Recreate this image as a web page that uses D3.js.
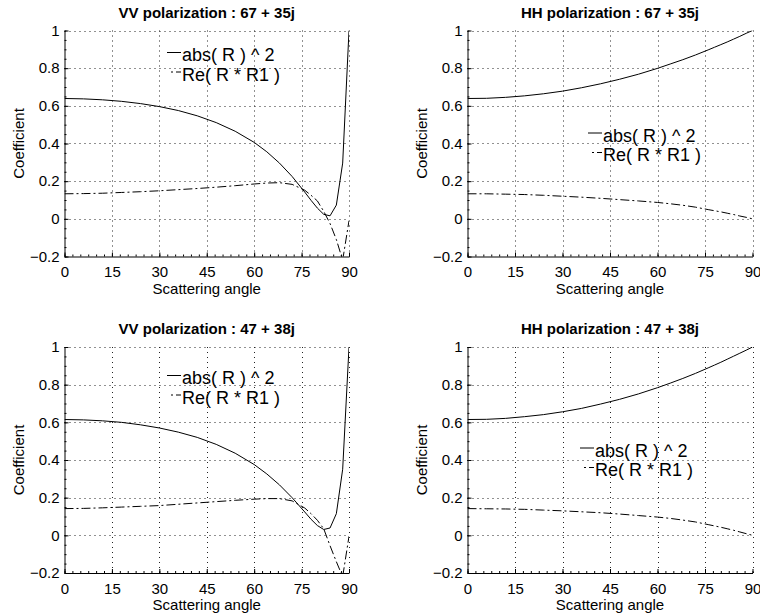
<!DOCTYPE html>
<html lang="en">
<head>
    <meta charset="utf-8">
    <title>Reflection coefficients</title>
    <script src="https://cdn.jsdelivr.net/npm/d3@7"></script>
</head>
<style>
    body {
        margin: 0;
        padding: 0;
        background-color: #ffffff;
        font-family: "Liberation Sans", Arial, Helvetica, sans-serif;
    }
    .tick text {
        font-family: "Liberation Sans", Arial, Helvetica, sans-serif;
        font-size: 15px;
        fill: #000;
    }
    .title {
        font-size: 15px;
        font-weight: bold;
        text-anchor: middle;
    }
    .axis-title {
        font-size: 15px;
        text-anchor: middle;
    }
    .legend text {
        font-size: 18px;
    }
</style>
<body>
    <svg width="760" height="615" id="chart"></svg>
    <script>
        // scattering angle, degrees
        var angles = [0, 6, 12, 18, 24, 30, 36, 42, 48, 54, 60, 64, 68, 72, 76, 78, 80, 82, 84, 86, 88, 90];

        // eps = 67 + 35j
        var vv67Abs = [0.639, 0.637, 0.632, 0.624, 0.612, 0.596, 0.575, 0.547, 0.511, 0.465, 0.406, 0.356, 0.296, 0.225, 0.142, 0.098, 0.057, 0.024, 0.016, 0.073, 0.296, 1.0];
        var vv67Re  = [0.133, 0.134, 0.136, 0.140, 0.144, 0.149, 0.155, 0.161, 0.168, 0.176, 0.185, 0.190, 0.192, 0.183, 0.152, 0.125, 0.095, 0.040, -0.025, -0.110, -0.220, -0.010];
        var hh67Abs = [0.639, 0.640, 0.645, 0.653, 0.664, 0.678, 0.696, 0.717, 0.741, 0.768, 0.799, 0.822, 0.845, 0.870, 0.897, 0.911, 0.925, 0.939, 0.954, 0.969, 0.985, 1.0];
        var hh67Re  = [0.133, 0.133, 0.131, 0.129, 0.125, 0.120, 0.115, 0.109, 0.102, 0.095, 0.087, 0.080, 0.072, 0.062, 0.049, 0.043, 0.037, 0.030, 0.023, 0.015, 0.008, 0.0];

        // eps = 47 + 38j
        var vv47Abs = [0.615, 0.613, 0.608, 0.600, 0.587, 0.570, 0.548, 0.520, 0.483, 0.436, 0.376, 0.326, 0.268, 0.200, 0.124, 0.085, 0.052, 0.031, 0.039, 0.115, 0.351, 1.0];
        var vv47Re  = [0.142, 0.143, 0.146, 0.150, 0.154, 0.158, 0.165, 0.172, 0.179, 0.186, 0.192, 0.195, 0.195, 0.183, 0.145, 0.115, 0.080, 0.035, -0.055, -0.140, -0.220, -0.005];
        var hh47Abs = [0.615, 0.616, 0.621, 0.630, 0.641, 0.656, 0.674, 0.697, 0.722, 0.751, 0.784, 0.808, 0.833, 0.860, 0.889, 0.904, 0.919, 0.935, 0.951, 0.967, 0.983, 1.0];
        var hh47Re  = [0.142, 0.141, 0.140, 0.138, 0.134, 0.130, 0.125, 0.120, 0.113, 0.105, 0.097, 0.090, 0.081, 0.071, 0.057, 0.050, 0.043, 0.035, 0.027, 0.018, 0.009, 0.0];

        var titles = ["VV polarization : 67 + 35j", "HH polarization : 67 + 35j",
                      "VV polarization : 47 + 38j", "HH polarization : 47 + 38j"];
        var seriesNames = ["abs( R ) ^ 2", "Re( R * R1 )"];
        var xTicks = [0, 15, 30, 45, 60, 75, 90];
        var yTicks = [-0.2, 0, 0.2, 0.4, 0.6, 0.8, 1];

        var panels = [
            { abs: vv67Abs, re: vv67Re, x0: 64.5, x1: 349, y0: 30.5, y1: 256.5, leg: [167, 61] },
            { abs: hh67Abs, re: hh67Re, x0: 467.5, x1: 752.5, y0: 30.5, y1: 256.5, leg: [588, 141.5] },
            { abs: vv47Abs, re: vv47Re, x0: 64.5, x1: 349, y0: 347, y1: 573, leg: [167, 384] },
            { abs: hh47Abs, re: hh47Re, x0: 467.5, x1: 752.5, y0: 347, y1: 573, leg: [580, 456.5] }
        ];

        var svg = d3.select("#chart");
        var dashDot = "9,3,2,3";

        panels.forEach(function (p, i) {
            var x = d3.scaleLinear().domain([0, 90]).range([p.x0, p.x1]);
            var y = d3.scaleLinear().domain([-0.2, 1]).range([p.y1, p.y0]);
            var g = svg.append("g");

            // dotted grid
            g.selectAll(".gx").data(xTicks.slice(1)).enter().append("line")
                .attr("x1", function (d) { return Math.round(x(d)) + 0.5; })
                .attr("x2", function (d) { return Math.round(x(d)) + 0.5; })
                .attr("y1", p.y0).attr("y2", p.y1)
                .attr("stroke", "#222").attr("stroke-dasharray", "1,4");
            g.selectAll(".gy").data(yTicks.slice(1)).enter().append("line")
                .attr("y1", function (d) { return Math.round(y(d)) + 0.5; })
                .attr("y2", function (d) { return Math.round(y(d)) + 0.5; })
                .attr("x1", p.x0).attr("x2", p.x1)
                .attr("stroke", "#222").attr("stroke-dasharray", "1,4");

            // minor ticks
            g.append("g")
                .attr("transform", "translate(0," + p.y1 + ")")
                .call(d3.axisBottom(x).tickValues(d3.range(0, 90.1, 2.5)).tickSize(-2).tickSizeOuter(0).tickFormat(""))
                .call(function (a) { a.select(".domain").remove(); });
            g.append("g")
                .attr("transform", "translate(" + p.x0 + ",0)")
                .call(d3.axisLeft(y).tickValues(d3.range(-0.2, 1.001, 0.05)).tickSize(-2).tickSizeOuter(0).tickFormat(""))
                .call(function (a) { a.select(".domain").remove(); });

            // main axes
            g.append("g")
                .attr("transform", "translate(0," + p.y1 + ")")
                .call(d3.axisBottom(x).tickValues(xTicks).tickSize(-4).tickSizeOuter(0).tickPadding(10));
            g.append("g")
                .attr("transform", "translate(" + p.x0 + ",0)")
                .call(d3.axisLeft(y).tickValues(yTicks).tickSize(-4).tickSizeOuter(0).tickPadding(5)
                    .tickFormat(function (d) { return d3.format("")(Math.round(d * 10) / 10); }));
            g.selectAll(".domain").attr("stroke", "#000");
            g.selectAll(".tick line").attr("stroke", "#000");

            // curves
            var clipId = "clip" + i;
            svg.append("clipPath").attr("id", clipId).append("rect")
                .attr("x", p.x0).attr("y", p.y0)
                .attr("width", p.x1 - p.x0).attr("height", p.y1 - p.y0);
            var line = d3.line()
                .x(function (d, k) { return x(angles[k]); })
                .y(function (d) { return y(d); });
            var lines = g.append("g").attr("clip-path", "url(#" + clipId + ")");
            lines.append("path").datum(p.abs)
                .attr("d", line).attr("fill", "none")
                .attr("stroke", "#000").attr("stroke-width", 1);
            lines.append("path").datum(p.re)
                .attr("d", line).attr("fill", "none")
                .attr("stroke", "#000").attr("stroke-width", 1)
                .attr("stroke-dasharray", dashDot);

            // titles
            var cx = (p.x0 + p.x1) / 2;
            g.append("text").attr("class", "title")
                .attr("x", cx).attr("y", p.y0 - 13)
                .text(titles[i]);
            g.append("text").attr("class", "axis-title")
                .attr("x", cx).attr("y", p.y1 + 37)
                .text("Scattering angle");
            g.append("text").attr("class", "axis-title")
                .attr("transform", "rotate(-90)")
                .attr("x", -(p.y0 + p.y1) / 2)
                .attr("y", p.x0 - 41)
                .text("Coefficient");

            // legend
            var leg = g.append("g").attr("class", "legend")
                .selectAll("g").data(seriesNames).enter().append("g")
                .attr("transform", function (d, k) { return "translate(" + p.leg[0] + "," + (p.leg[1] + k * 19.5) + ")"; });
            leg.append("line")
                .attr("x1", function (d, k) { return k === 0 ? 0 : 4; })
                .attr("x2", 14)
                .attr("y1", -8.5).attr("y2", -8.5)
                .attr("stroke", "#000")
                .attr("stroke-dasharray", function (d, k) { return k === 0 ? null : "2,3,9"; });
            leg.append("text")
                .attr("x", 15)
                .attr("y", 0)
                .text(function (d) { return d; });
        });
    </script>
</body>
</html>
